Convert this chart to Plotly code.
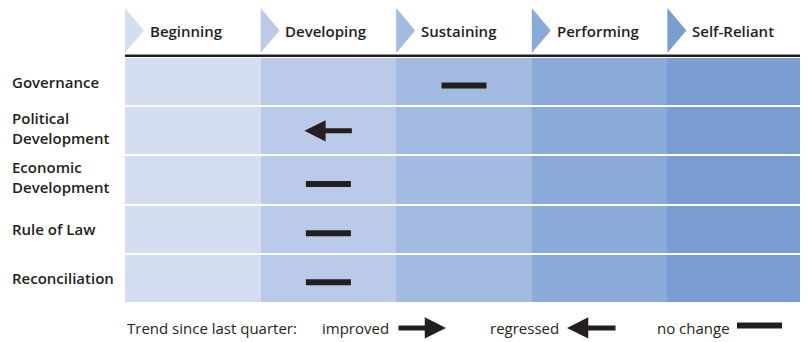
import plotly.graph_objects as go

# stages (columns) and indicators (rows)
stages = ["Beginning", "Developing", "Sustaining", "Performing", "Self-Reliant"]
stage_colors = ["#d5def1", "#bacae8", "#a3bbe0", "#8aaad9", "#7a9ed3"]
rows = ["Governance", "Political<br>Development", "Economic<br>Development", "Rule of Law", "Reconciliation"]
row_stage = ["Sustaining", "Developing", "Developing", "Developing", "Developing"]
row_trend = ["no change", "regressed", "no change", "no change", "no change"]

ink = "#231f20"
font = "Open Sans"

nx = len(stages)
ny = len(rows)
xs = [i + 0.5 for i in range(nx)]
ys = list(range(ny))
z = [[i for i in range(nx)] for _ in range(ny)]
scale = [[i / (nx - 1), c] for i, c in enumerate(stage_colors)]

fig = go.Figure()
fig.add_trace(go.Heatmap(x=xs, y=ys, z=z, colorscale=scale, zmin=0, zmax=nx - 1,
                         showscale=False, ygap=2, xgap=0, hoverinfo="skip"))

half = 0.166
for r, (st, tr) in enumerate(zip(row_stage, row_trend)):
    xc = stages.index(st) + 0.5
    if tr == "no change":
        fig.add_trace(go.Scatter(x=[xc - half, xc + half], y=[r + 0.08, r + 0.08], mode="lines",
                                 line=dict(color=ink, width=6), hoverinfo="skip", showlegend=False))
    else:
        if tr == "regressed":
            tip, tail = xc - 0.177, xc + 0.184
        else:
            tip, tail = xc + 0.184, xc - 0.177
        fig.add_annotation(x=tip, y=r, ax=tail, ay=r, xref="x", yref="y", axref="x", ayref="y",
                           showarrow=True, arrowhead=2, arrowwidth=5, arrowsize=0.85,
                           arrowcolor=ink, text="")

# header: triangles, labels, rule
for i, (name, col) in enumerate(zip(stages, stage_colors)):
    fig.add_shape(type="path", xref="x", yref="paper",
                  path=f"M {i},1.016 L {i + 0.14},1.108 L {i},1.199 Z",
                  fillcolor=col, line=dict(width=0))
    fig.add_annotation(x=i + 0.168, y=1.106, xref="x", yref="paper", text=name,
                       showarrow=False, xanchor="left", yanchor="middle",
                       font=dict(family=font, size=15, color=ink, weight=600))
fig.add_shape(type="line", xref="paper", yref="paper", x0=0, x1=1, y0=1.005, y1=1.005,
              line=dict(color=ink, width=2.5))

# row labels
for r, name in enumerate(rows):
    dy = -0.06 if "<br>" in name else 0
    fig.add_annotation(x=-0.170, y=r + dy, xref="paper", yref="y", text=name,
                       showarrow=False, xanchor="left", yanchor="middle", align="left",
                       font=dict(family=font, size=15, color=ink, weight=600))

# legend
W = 678.0
def px(v):
    return (v - 125) / W
ly = -0.1016
legend_txt = [("Trend since last quarter:", 125), ("improved", 320), ("regressed", 488), ("no change", 655)]
for t, x0 in legend_txt:
    fig.add_annotation(x=px(x0), y=ly, xref="paper", yref="paper", text=t, showarrow=False,
                       xanchor="left", yanchor="middle",
                       font=dict(family=font, size=15, color=ink))
fig.add_annotation(x=px(446), y=ly, ax=-49, ay=0, xref="paper", yref="paper", text="",
                   showarrow=True, arrowhead=2, arrowwidth=5, arrowsize=0.85, arrowcolor=ink)
fig.add_annotation(x=px(567), y=ly, ax=50, ay=0, xref="paper", yref="paper", text="",
                   showarrow=True, arrowhead=2, arrowwidth=5, arrowsize=0.85, arrowcolor=ink)
fig.add_shape(type="line", xref="paper", yref="paper", x0=px(737), x1=px(782), y0=ly + 0.01, y1=ly + 0.01,
              line=dict(color=ink, width=6))

fig.update_xaxes(range=[0, nx], visible=False, fixedrange=True)
fig.update_yaxes(range=[ny - 0.5, -0.5], visible=False, fixedrange=True)
# page body has an 8px margin, so the figure is 8px smaller and its margins shrink to match
fig.update_layout(width=800, height=334, margin=dict(l=117, r=5, t=49, b=39),
                  paper_bgcolor="white", plot_bgcolor="white", showlegend=False)

fig.write_html("out.html")
